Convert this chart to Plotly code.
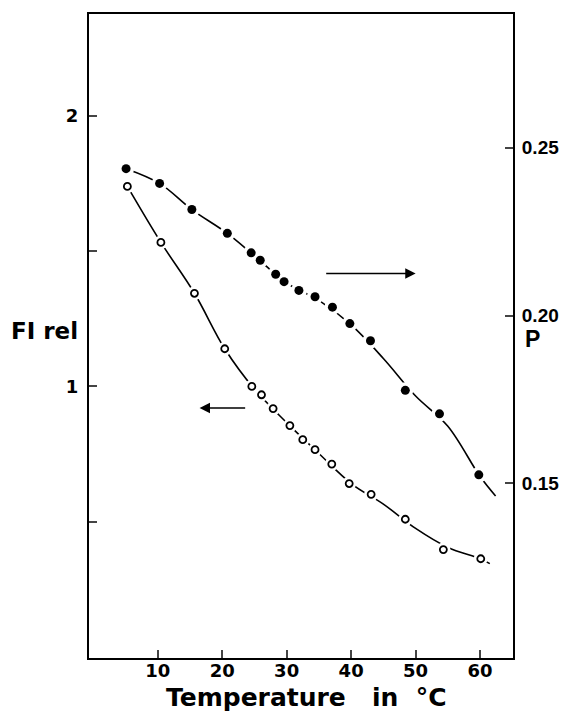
import plotly.graph_objects as go

# Temperature (°C) and measured values
temp_p = [5.1, 10.3, 15.3, 20.8, 24.5, 25.9, 28.3, 29.6, 31.9, 34.4, 37.1, 39.8, 43.0, 48.4, 53.7, 59.8]
p_vals = [0.2438, 0.2394, 0.2316, 0.2245, 0.2187, 0.2165, 0.2123, 0.2101, 0.2075, 0.2056, 0.2025, 0.1976, 0.1925, 0.1777, 0.1707, 0.1525]

temp_fi = [5.3, 10.5, 15.7, 20.4, 24.6, 26.1, 27.9, 30.5, 32.5, 34.4, 37.0, 39.7, 43.1, 48.4, 54.3, 60.1]
fi_vals = [1.739, 1.532, 1.344, 1.139, 1.000, 0.969, 0.918, 0.855, 0.803, 0.766, 0.713, 0.641, 0.601, 0.509, 0.397, 0.363]

# Smooth fitted curves
curve_p_x = [5.1, 10.3, 15.3, 20.8, 25.0, 30.0, 35.0, 40.0, 45.0, 50.0, 55.0, 60.0, 62.4]
curve_p_y = [0.2438, 0.2394, 0.2316, 0.2245, 0.2178, 0.2097, 0.2045, 0.1972, 0.1872, 0.1760, 0.1670, 0.1520, 0.1462]
curve_fi_x = [5.3, 10.5, 15.7, 20.4, 25.0, 30.0, 35.0, 40.0, 45.0, 50.0, 55.0, 60.0, 61.5]
curve_fi_y = [1.739, 1.532, 1.344, 1.139, 0.990, 0.866, 0.752, 0.641, 0.565, 0.475, 0.405, 0.363, 0.345]

x_ticks = [10, 20, 30, 40, 50, 60]
fi_ticks = [0.5, 1, 1.5, 2]
fi_ticktext = ["", "1", "", "2"]
p_ticks = [0.15, 0.20, 0.25]
p_ticktext = ["0.15", "0.20", "0.25"]

FONT = "Liberation Sans"
WIDE = "DejaVu Sans"

fig = go.Figure()

# lines
fig.add_trace(go.Scatter(x=curve_fi_x, y=curve_fi_y, mode="lines", line=dict(color="black", width=1.6, shape="spline"),
                         yaxis="y", showlegend=False, hoverinfo="skip"))
fig.add_trace(go.Scatter(x=curve_p_x, y=curve_p_y, mode="lines", line=dict(color="black", width=1.6, shape="spline"),
                         yaxis="y2", showlegend=False, hoverinfo="skip"))
# white halos to give gaps around markers
fig.add_trace(go.Scatter(x=temp_fi, y=fi_vals, mode="markers", marker=dict(color="white", size=14, line=dict(width=0)),
                         yaxis="y", showlegend=False, hoverinfo="skip"))
fig.add_trace(go.Scatter(x=temp_p, y=p_vals, mode="markers", marker=dict(color="white", size=16, line=dict(width=0)),
                         yaxis="y2", showlegend=False, hoverinfo="skip"))
# markers
fig.add_trace(go.Scatter(x=temp_fi, y=fi_vals, mode="markers",
                         marker=dict(color="white", size=7, line=dict(color="black", width=1.8)),
                         yaxis="y", showlegend=False))
fig.add_trace(go.Scatter(x=temp_p, y=p_vals, mode="markers",
                         marker=dict(color="black", size=9, line=dict(color="black", width=0)),
                         yaxis="y2", showlegend=False))

fig.update_layout(
    width=571, height=715,
    margin=dict(l=89, r=56, t=13, b=57),
    paper_bgcolor="white", plot_bgcolor="white",
    xaxis=dict(range=[-0.65, 65.1], tickvals=x_ticks, ticks="inside", ticklen=8, tickwidth=1.5,
               showline=True, linewidth=2, linecolor="black", mirror=True, showgrid=False, zeroline=False,
               tickfont=dict(family=WIDE, size=18, color="black", weight="bold"), ticklabelstandoff=-5),
    yaxis=dict(range=[-0.0037, 2.376], tickvals=fi_ticks, ticktext=fi_ticktext, ticks="inside", ticklen=8,
               tickwidth=1.5, showline=True, linewidth=2, linecolor="black", showgrid=False, zeroline=False,
               tickfont=dict(family=WIDE, size=18, color="black", weight="bold"), ticklabelstandoff=5),
    yaxis2=dict(range=[0.0979, 0.2899], tickvals=p_ticks, ticktext=p_ticktext, overlaying="y", side="right",
                ticks="inside", ticklen=8, tickwidth=1.5, showline=True, linewidth=2, linecolor="black",
                showgrid=False, zeroline=False, tickfont=dict(family=FONT, size=19, color="black", weight="bold"),
                ticklabelstandoff=3),
    annotations=[
        dict(text="FI rel", xref="paper", yref="paper", x=-0.021, y=0.5085, xanchor="right", yanchor="middle",
             showarrow=False, font=dict(family=WIDE, size=23, color="black", weight="bold")),
        dict(text="P", xref="paper", yref="paper", x=1.0235, y=0.496, xanchor="left", yanchor="middle",
             showarrow=False, font=dict(family=FONT, size=23, color="black", weight="bold")),
        dict(text="Temperature&#160;&#160; in&#160; °C", xref="paper", yref="paper", x=0.514, y=-0.062,
             xanchor="center", yanchor="middle", showarrow=False,
             font=dict(family=WIDE, size=25, color="black", weight="bold")),
        dict(x=50.0, y=1.417, ax=35.9, ay=1.417, xref="x", yref="y", axref="x", ayref="y", text="",
             showarrow=True, arrowhead=2, arrowsize=1.3, arrowwidth=1.6, arrowcolor="black"),
        dict(x=16.5, y=0.92, ax=23.8, ay=0.92, xref="x", yref="y", axref="x", ayref="y", text="",
             showarrow=True, arrowhead=2, arrowsize=1.3, arrowwidth=1.6, arrowcolor="black"),
    ],
)

fig.write_html("out.html")
